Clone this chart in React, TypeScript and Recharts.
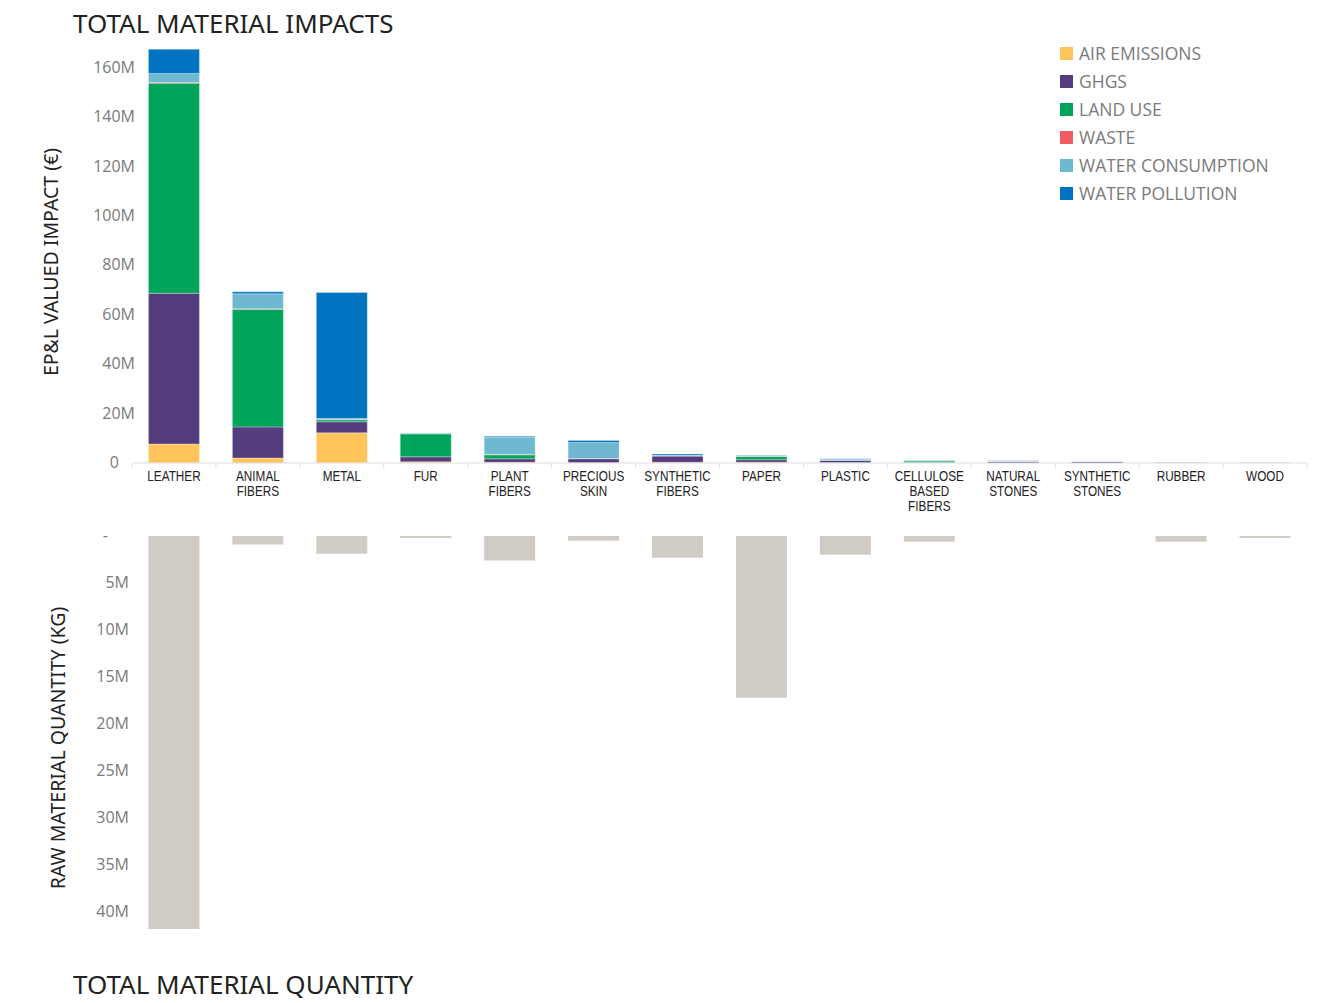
import { BarChart, Bar, XAxis, YAxis } from "recharts";

// material categories, in display order
const categories = [
  "LEATHER",
  "ANIMAL\nFIBERS",
  "METAL",
  "FUR",
  "PLANT\nFIBERS",
  "PRECIOUS\nSKIN",
  "SYNTHETIC\nFIBERS",
  "PAPER",
  "PLASTIC",
  "CELLULOSE\nBASED\nFIBERS",
  "NATURAL\nSTONES",
  "SYNTHETIC\nSTONES",
  "RUBBER",
  "WOOD",
];

// EP&L valued impact per impact type, millions of €
const airEmissions = [7.7, 2.0, 12.2, 0.5, 0.3, 0.1, 0.3, 0.3, 0.1, 0.05, 0.05, 0.05, 0.02, 0.01];
const ghgs = [61, 12.6, 4.5, 2.0, 1.4, 1.6, 2.5, 1.0, 1.0, 0.2, 0.6, 0.6, 0.1, 0.02];
const landUse = [85, 47.6, 0.8, 9.3, 1.6, 0, 0, 1.3, 0.1, 0.6, 0, 0, 0, 0.01];
const waste = [0.3, 0.2, 0.1, 0.1, 0.2, 0.1, 0.1, 0.1, 0.05, 0.02, 0.02, 0.02, 0.01, 0];
const waterConsumption = [3.7, 6.1, 0.4, 0.1, 6.9, 6.5, 0.2, 0.4, 0.4, 0.3, 0.15, 0.05, 0.3, 0.01];
const waterPollution = [9.8, 0.8, 51, 0.1, 0.4, 0.8, 0.5, 0.1, 0.1, 0.05, 0.05, 0.03, 0.02, 0.01];

// raw material quantity, millions of kg
const rawQuantity = [41.8, 0.9, 1.9, 0.2, 2.6, 0.5, 2.3, 17.2, 2.0, 0.6, 0, 0, 0.6, 0.2];

const impactTicks = [0, 20, 40, 60, 80, 100, 120, 140, 160];
const quantityTicks = [0, 5, 10, 15, 20, 25, 30, 35, 40];

const series = [
  { key: "air", name: "AIR EMISSIONS", color: "#FFC45A" },
  { key: "ghg", name: "GHGS", color: "#553C7E" },
  { key: "land", name: "LAND USE", color: "#00A45A" },
  { key: "waste", name: "WASTE", color: "#F25A64" },
  { key: "waterCons", name: "WATER CONSUMPTION", color: "#6FB9D0" },
  { key: "waterPoll", name: "WATER POLLUTION", color: "#0074C1" },
];

const impactData = categories.map((name, i) => ({
  name,
  air: airEmissions[i],
  ghg: ghgs[i],
  land: landUse[i],
  waste: waste[i],
  waterCons: waterConsumption[i],
  waterPoll: waterPollution[i],
}));

const quantityData = categories.map((name, i) => ({ name, qty: rawQuantity[i] }));

const W = 1326;
const Y_W = 132;
const RIGHT = 19;
const BAND = (W - Y_W - RIGHT) / categories.length;
const BAR_GAP = "19.6%";

const tickFont = "'Open Sans', sans-serif";

const CategoryTick = (props: any) => {
  const { x, y, payload, index } = props;
  const lines = String(payload.value).split("\n");
  const last = index === categories.length - 1;
  return (
    <g>
      <line x1={x - BAND / 2} x2={x - BAND / 2} y1={y - 8} y2={y - 3} stroke="#ddd" />
      {last && <line x1={x + BAND / 2} x2={x + BAND / 2} y1={y - 8} y2={y - 3} stroke="#ddd" />}
      <g transform={`translate(${x},${y + 10}) scale(0.84,1)`}>
        <text
          x={0}
          y={0}
          textAnchor="middle"
          fill="#222"
          fontSize={14}
          fontFamily="'Liberation Sans', sans-serif"
        >
          {lines.map((l, k) => (
            <tspan key={k} x={0} dy={k === 0 ? 0 : 15}>
              {l}
            </tspan>
          ))}
        </text>
      </g>
    </g>
  );
};

const ImpactLegend = () => (
  <div
    style={{
      position: "absolute",
      left: 1060,
      top: 39,
      fontFamily: tickFont,
      fontSize: 17.5,
      color: "#7a7a7a",
    }}
  >
    {series.map((s) => (
      <div key={s.key} style={{ display: "flex", alignItems: "center", height: 28, whiteSpace: "nowrap" }}>
        <span style={{ width: 13, height: 13, background: s.color, marginRight: 6 }} />
        {s.name}
      </div>
    ))}
  </div>
);

const ImpactYTick = (props: any) => {
  const { x, y, payload } = props;
  const v = payload.value;
  return (
    <text
      x={v === 0 ? x - 5 : x + 11}
      y={y}
      dy={5}
      textAnchor="end"
      fill="#7a7a7a"
      fontSize={16}
      fontFamily={tickFont}
    >
      {v === 0 ? "0" : `${v}M`}
    </text>
  );
};

const QuantityYTick = (props: any) => {
  const { x, y, payload } = props;
  const v = payload.value;
  return (
    <text
      x={v === 0 ? x - 16 : x + 5}
      y={y}
      dy={5}
      textAnchor="end"
      fill="#7a7a7a"
      fontSize={16}
      fontFamily={tickFont}
    >
      {v === 0 ? "-" : `${v}M`}
    </text>
  );
};

const titleStyle: React.CSSProperties = {
  position: "absolute",
  left: 73,
  fontFamily: "'Noto Sans', sans-serif",
  fontSize: 26,
  color: "#222",
  whiteSpace: "nowrap",
};

const axisTitleStyle: React.CSSProperties = {
  position: "absolute",
  fontFamily: "'Noto Sans', sans-serif",
  fontSize: 19.5,
  color: "#222",
  whiteSpace: "nowrap",
  transform: "translate(-50%, -50%) rotate(-90deg)",
};

export default function App() {
  return (
    <div style={{ position: "absolute", left: 0, top: 0, width: W, height: 1003, background: "#fff", overflow: "hidden" }}>
      <div style={{ ...titleStyle, top: 5 }}>TOTAL MATERIAL IMPACTS</div>
      <div style={{ ...axisTitleStyle, left: 50, top: 262 }}>EP&amp;L VALUED IMPACT (€)</div>
      <div style={{ ...axisTitleStyle, left: 57, top: 748 }}>RAW MATERIAL QUANTITY (KG)</div>
      <ImpactLegend />

      <div style={{ position: "absolute", left: 0, top: 0 }}>
        <BarChart
          width={W}
          height={520}
          data={impactData}
          margin={{ top: 43, right: RIGHT, left: 0, bottom: 0 }}
          barCategoryGap={BAR_GAP}
        >
          <XAxis
            dataKey="name"
            height={57}
            interval={0}
            tickLine={false}
            axisLine={{ stroke: "#ddd" }}
            tick={<CategoryTick />}
          />
          <YAxis
            width={Y_W}
            domain={[0, 170]}
            ticks={impactTicks}
            axisLine={false}
            tickLine={false}
            tick={<ImpactYTick />}
          />
          {series.map((s) => (
            <Bar
              key={s.key}
              dataKey={s.key}
              name={s.name}
              stackId="impact"
              fill={s.color}
              stroke="#ffffff"
              strokeOpacity={0.5}
              strokeWidth={0.6}
              isAnimationActive={false}
            />
          ))}
        </BarChart>
      </div>

      <div style={{ position: "absolute", left: 0, top: 520 }}>
        <BarChart
          width={W}
          height={430}
          data={quantityData}
          margin={{ top: 16, right: RIGHT, left: 0, bottom: 19 }}
          barCategoryGap={BAR_GAP}
        >
          <XAxis dataKey="name" hide />
          <YAxis
            width={Y_W}
            reversed
            domain={[0, 42]}
            ticks={quantityTicks}
            axisLine={false}
            tickLine={false}
            tick={<QuantityYTick />}
          />
          <Bar dataKey="qty" fill="#D0CBC5" isAnimationActive={false} />
        </BarChart>
      </div>

      <div style={{ ...titleStyle, top: 966 }}>TOTAL MATERIAL QUANTITY</div>
    </div>
  );
}
